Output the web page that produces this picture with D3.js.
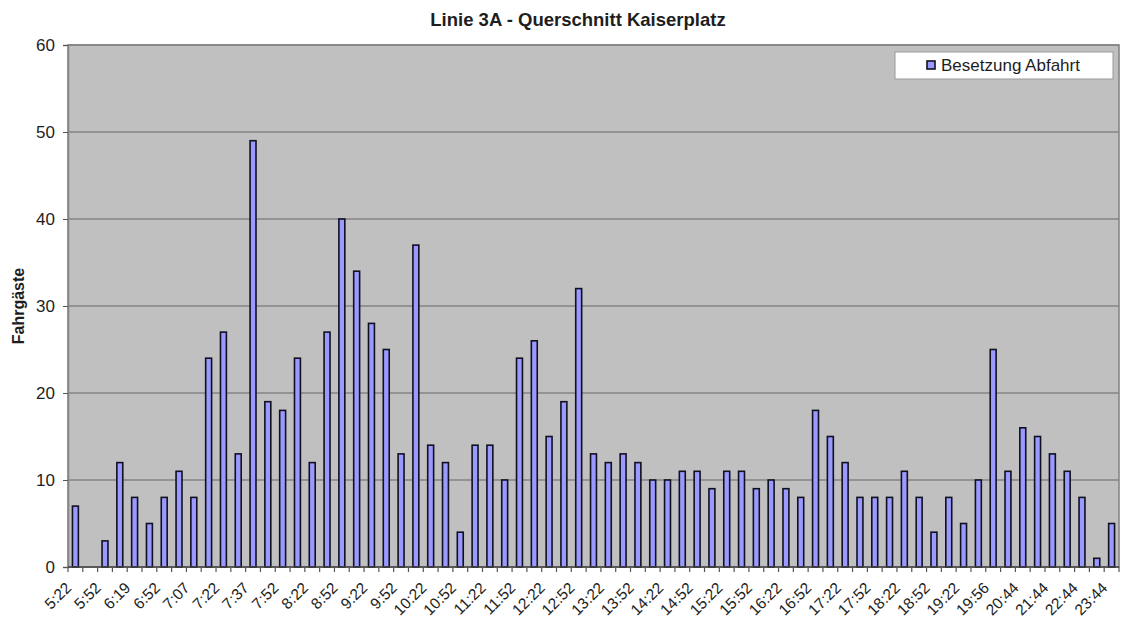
<!DOCTYPE html>
<meta charset="utf-8">
<style>
body {
	margin: 0;
	background: #fff;
}
text {
	font-family: Arial, "Liberation Sans", sans-serif;
	fill: #1e1e1e;
}
.title {
	font-size: 18.5px;
	font-weight: bold;
}
.ylabel {
	font-size: 16px;
	font-weight: bold;
}
.bar {
	fill: #9999ff;
	stroke: #101020;
	stroke-width: 1.6;
}
.grid line {
	stroke: #858585;
	stroke-width: 1.6;
}
</style>
<body>
<script src="https://cdnjs.cloudflare.com/ajax/libs/d3/7.8.5/d3.min.js"></script>
<script>
	var width = 1122,
		height = 621;

	// departures (every second one is labelled on the axis)
	var times = ["5:22", "5:37", "5:52", "6:07", "6:19", "6:37", "6:52", "7:00", "7:07", "7:15",
				 "7:22", "7:30", "7:37", "7:45", "7:52", "8:07", "8:22", "8:37", "8:52", "9:07",
				 "9:22", "9:37", "9:52", "10:07", "10:22", "10:37", "10:52", "11:07", "11:22", "11:37",
				 "11:52", "12:07", "12:22", "12:37", "12:52", "13:07", "13:22", "13:37", "13:52", "14:07",
				 "14:22", "14:37", "14:52", "15:07", "15:22", "15:37", "15:52", "16:07", "16:22", "16:37",
				 "16:52", "17:07", "17:22", "17:37", "17:52", "18:07", "18:22", "18:37", "18:52", "19:07",
				 "19:22", "19:37", "19:56", "20:14", "20:44", "21:14", "21:44", "22:14", "22:44", "23:14",
				 "23:44"];

	var besetzung = [7, 0, 3, 12, 8, 5, 8, 11, 8, 24,
					 27, 13, 49, 19, 18, 24, 12, 27, 40, 34,
					 28, 25, 13, 37, 14, 12, 4, 14, 14, 10,
					 24, 26, 15, 19, 32, 13, 12, 13, 12, 10,
					 10, 11, 11, 9, 11, 11, 9, 10, 9, 8,
					 18, 15, 12, 8, 8, 8, 11, 8, 4, 8,
					 5, 10, 25, 11, 16, 15, 13, 11, 8, 1,
					 5];

	var yTicks = [0, 10, 20, 30, 40, 50, 60];

	var title = "Linie 3A - Querschnitt Kaiserplatz",
		yTitle = "Fahrgäste",
		seriesName = "Besetzung Abfahrt";

	var data = times.map(function(t, i) { return {time: t, value: besetzung[i]}; });

	var plot = {left: 68, top: 45, right: 1119, bottom: 567};

	var svg = d3.select("body").append("svg")
		.attr("width", width)
		.attr("height", height);

	var x = d3.scaleBand()
		.domain(times)
		.range([plot.left, plot.right])
		.paddingInner(0.6)
		.paddingOuter(0.3);

	var y = d3.scaleLinear()
		.domain([0, 60])
		.range([plot.bottom, plot.top]);

	// plot background
	svg.append("rect")
		.attr("x", plot.left)
		.attr("y", plot.top)
		.attr("width", plot.right - plot.left)
		.attr("height", plot.bottom - plot.top)
		.attr("fill", "#c0c0c0")
		.attr("stroke", "#858585")
		.attr("stroke-width", 1.6);

	// gridlines
	svg.append("g")
		.attr("class", "grid")
		.selectAll("line")
		.data(yTicks.filter(function(d) { return d > 0; }))
		.enter()
		.append("line")
		.attr("x1", plot.left)
		.attr("x2", plot.right)
		.attr("y1", function(d) { return y(d); })
		.attr("y2", function(d) { return y(d); });

	// bars
	svg.append("g")
		.selectAll("rect")
		.data(data.filter(function(d) { return d.value > 0; }))
		.enter()
		.append("rect")
		.attr("class", "bar")
		.attr("x", function(d) { return x(d.time); })
		.attr("width", x.bandwidth())
		.attr("y", function(d) { return y(d.value); })
		.attr("height", function(d) { return y(0) - y(d.value); });

	// y axis
	var yAxis = svg.append("g")
		.attr("transform", "translate(" + plot.left + ",0)")
		.call(d3.axisLeft(y).tickValues(yTicks).tickSize(5).tickPadding(8));
	yAxis.select(".domain").attr("stroke", "#858585").attr("stroke-width", 1.6);
	yAxis.selectAll(".tick line").attr("stroke", "#555");
	yAxis.selectAll(".tick text")
		.style("font-size", "17px")
		.style("font-family", "Arial, 'Liberation Sans', sans-serif")
		.attr("fill", "#1e1e1e");

	// x axis: tick marks between categories, every second label
	var half = x.step() / 2;
	var bounds = times.map(function(t) { return x(t) + x.bandwidth() / 2 - half; });
	bounds.push(plot.right);

	svg.append("line")
		.attr("x1", plot.left)
		.attr("x2", plot.right)
		.attr("y1", y(0))
		.attr("y2", y(0))
		.attr("stroke", "#444")
		.attr("stroke-width", 1.6);

	svg.append("g")
		.selectAll("line")
		.data(bounds)
		.enter()
		.append("line")
		.attr("x1", function(d) { return d; })
		.attr("x2", function(d) { return d; })
		.attr("y1", y(0))
		.attr("y2", y(0) + 5)
		.attr("stroke", "#555")
		.attr("stroke-width", 1.2);

	svg.append("g")
		.selectAll("text")
		.data(times.filter(function(t, i) { return i % 2 === 0; }))
		.enter()
		.append("text")
		.attr("transform", function(d) {
			return "translate(" + (x(d) + x.bandwidth() / 2 - 7) + "," + (y(0) + 18) + ") rotate(-45)";
		})
		.attr("text-anchor", "end")
		.attr("dy", "0.35em")
		.style("font-size", "15.5px")
		.text(function(d) { return d; });

	// titles
	svg.append("text")
		.attr("class", "title")
		.attr("x", 578)
		.attr("y", 26)
		.attr("text-anchor", "middle")
		.text(title);

	svg.append("text")
		.attr("class", "ylabel")
		.attr("transform", "translate(24," + ((plot.top + plot.bottom) / 2) + ") rotate(-90)")
		.attr("text-anchor", "middle")
		.text(yTitle);

	// legend
	var legend = svg.append("g").attr("transform", "translate(895,52)");
	legend.append("rect")
		.attr("width", 218)
		.attr("height", 27)
		.attr("fill", "#fff")
		.attr("stroke", "#9a9a9a")
		.attr("stroke-width", 1);
	legend.append("rect")
		.attr("class", "bar")
		.attr("x", 32)
		.attr("y", 9)
		.attr("width", 8)
		.attr("height", 8);
	legend.append("text")
		.attr("x", 46)
		.attr("y", 19)
		.style("font-size", "17px")
		.text(seriesName);
</script>
</body>
